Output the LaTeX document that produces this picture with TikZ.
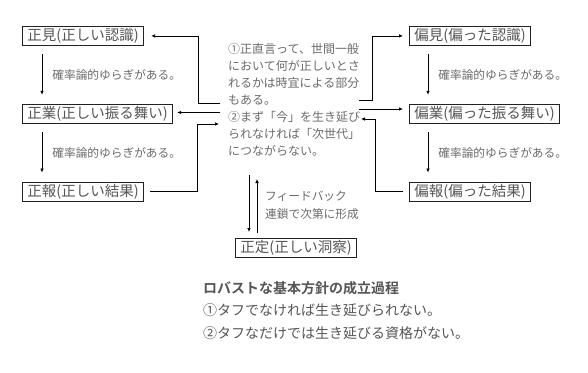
\documentclass[tikz,border=0pt]{standalone}
\usepackage{fontspec}
\setmainfont{Noto Sans CJK JP}[BoldFont={Noto Sans CJK JP Bold}]
\usetikzlibrary{positioning,arrows.meta,calc}
\definecolor{BoxLine}{HTML}{222222}
\definecolor{BoxText}{HTML}{555555}
\definecolor{NoteText}{HTML}{6A6A6A}
\definecolor{SumText}{HTML}{555555}
\tikzset{
  kBox/.style={
    draw=BoxLine,
    line width=0.8pt,
    text=BoxText,
    font=\fontsize{14.5pt}{16pt}\selectfont,
    inner xsep=5pt,
    inner ysep=1pt,
    minimum height=19pt
  },
  kNote/.style={
    text=NoteText,
    font=\fontsize{11.7pt}{13pt}\selectfont,
    inner sep=0pt
  },
  kSum/.style={
    text=SumText,
    font=\fontsize{14pt}{22.5pt}\selectfont,
    align=left,
    inner sep=0pt
  },
  kArrow/.style={
    line width=0.7pt,
    color=black,
    -{Latex[length=4pt,width=3.5pt]}
  }
}

\begin{document}
\begin{tikzpicture}[x=1pt, y=-1pt, node distance=58pt]
  \useasboundingbox (0,0) rectangle (588,372);

  % left chain
  \node (mken) [kBox, anchor=north west] at (22,26) {正見(正しい認識)};
  \node (mgyo) [kBox, below=of mken.south west, anchor=north west] {正業(正しい振る舞い)};
  \node (mhou) [kBox, below=of mgyo.south west, anchor=north west] {正報(正しい結果)};

  % right chain
  \node (hken) [kBox, anchor=north west] at (409,26) {偏見(偏った認識)};
  \node (hgyo) [kBox, below=of hken.south west, anchor=north west] {偏業(偏った振る舞い)};
  \node (hhou) [kBox, below=of hgyo.south west, anchor=north west] {偏報(偏った結果)};

  % centre
  \node (midtxt) [kNote, anchor=north west, align=left,
    font=\fontsize{12pt}{17pt}\selectfont] at (228,43) {
    ①正直言って、世間一般\\
    において何が正しいとさ\\
    れるかは時宜による部分\\
    もある。\\
    ②まず「今」を生き延び\\
    られなければ「次世代」\\
    につながらない。
  };
  \node (seijo) [kBox, anchor=north west] at (235,238) {正定(正しい洞察)};

  \coordinate (inL1) at (220,103);
  \coordinate (inL2) at (220,112.5);
  \coordinate (inL3) at (219,124);
  \coordinate (inR1) at (359,100);
  \coordinate (inR2) at (359,109);
  \coordinate (inR3) at (361,119);
  \coordinate (fbDown) at (249,175);
  \coordinate (fbUp) at (257,179);

  \draw [kArrow, shorten <=8pt, shorten >=9pt] ([xshift=20pt]mken.south west) --
    node (mlbl1) [kNote, right=10pt] {確率論的ゆらぎがある。} ([xshift=20pt]mgyo.north west);
  \draw [kArrow, shorten <=8pt, shorten >=9pt] ([xshift=20pt]mgyo.south west) --
    node (mlbl2) [kNote, right=10pt] {確率論的ゆらぎがある。} ([xshift=20pt]mhou.north west);
  \draw [kArrow, shorten <=8pt, shorten >=9pt] ([xshift=19pt]hken.south west) --
    node (hlbl1) [kNote, right=10pt] {確率論的ゆらぎがある。} ([xshift=19pt]hgyo.north west);
  \draw [kArrow, shorten <=8pt, shorten >=9pt] ([xshift=19pt]hgyo.south west) --
    node (hlbl2) [kNote, right=10pt] {確率論的ゆらぎがある。} ([xshift=19pt]hhou.north west);

  \draw [kArrow, shorten >=7pt] (inL1) -- ++(-22,0) |- (mken.east);
  \draw [kArrow, shorten >=4pt] (inL2) -- (inL2 -| mgyo.east);
  \draw [kArrow] ([xshift=6pt]mhou.east) -- ++(47,0) |- (inL3);

  \draw [kArrow, shorten >=6pt] (inR1) -- ++(13,0) |- (hken.west);
  \draw [kArrow, shorten >=6pt] (inR2) -- (inR2 -| hgyo.west);
  \draw [kArrow] ([xshift=-6pt]hhou.west) -- ++(-28,0) |- (inR3);

  \draw [kArrow, shorten >=6pt] (fbDown) -- (fbDown |- seijo.north);
  \draw [kArrow, shorten <=5pt] (fbUp |- seijo.north) -- (fbUp);
  \node (fblbl) [kNote, anchor=west, align=left,
    font=\fontsize{11.7pt}{18pt}\selectfont] at (265,205) {フィードバック\\連鎖で次第に形成};

  % summary
  \node (summary) [kSum, anchor=north west] at (203,281) {
    \textbf{ロバストな基本方針の成立過程}\\
    ①タフでなければ生き延びられない。\\
    ②タフなだけでは生き延びる資格がない。
  };
\end{tikzpicture}
\end{document}
